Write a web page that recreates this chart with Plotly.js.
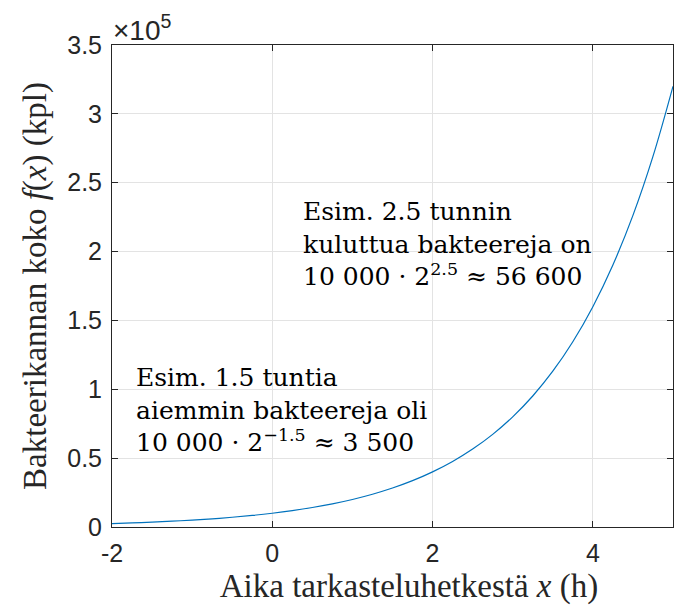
<!DOCTYPE html>
<html>
<head>
<meta charset="utf-8">
<script src="https://cdn.plot.ly/plotly-3.0.1.min.js"></script>
<style>html,body{margin:0;padding:0;background:#fff}#chart{width:674px;height:605px}</style>
</head>
<body>
<div id="chart"></div>
<script>
// (bacteria count vs time)
const timeH = [-2, -1.75, -1.5, -1.25, -1, -0.75, -0.5, -0.25, 0, 0.25, 0.5, 0.75, 1, 1.25, 1.5, 1.75, 2, 2.25, 2.5, 2.75, 3, 3.25, 3.5, 3.75, 4, 4.25, 4.5, 4.75, 5];
const bacteria = [2500, 2973, 3536, 4204, 5000, 5946, 7071, 8409, 10000, 11892, 14142, 16818, 20000, 23784, 28284, 33636, 40000, 47568, 56569, 67272, 80000, 95137, 113137, 134543, 160000, 190273, 226274, 269087, 320000];
const yTickVals = [0, 50000, 100000, 150000, 200000, 250000, 300000, 350000];
const yTickText = ['0', '0.5', '1', '1.5', '2', '2.5', '3', '3.5'];
const xTickVals = [-2, 0, 2, 4];
const xTickText = ['-2', '0', '2', '4'];

const axisCol = '#262626';
const gridCol = '#e3e3e3';
const tickFont = {family: 'Liberation Sans, Arial, sans-serif', size: 25, color: axisCol};
const serif = 'Liberation Serif, Times New Roman, serif';
const annFont = 'DejaVu Serif, serif';

const trace = {
  x: timeH, y: bacteria, type: 'scatter', mode: 'lines',
  line: {color: '#0072BD', width: 1.2, shape: 'spline'},
  hoverinfo: 'skip'
};

const layout = {
  width: 674, height: 605,
  margin: {l: 112, r: 1, t: 45, b: 78},
  paper_bgcolor: '#fff', plot_bgcolor: '#fff',
  showlegend: false,
  xaxis: {
    range: [-2, 5], tickvals: xTickVals, ticktext: xTickText,
    ticks: 'inside', ticklen: 6, tickcolor: axisCol, tickwidth: 1,
    showline: true, linecolor: axisCol, linewidth: 1, mirror: 'ticks',
    showgrid: true, gridcolor: gridCol, gridwidth: 1, zeroline: false,
    tickfont: tickFont, ticklabelstandoff: 4,
    title: {text: '&nbsp;&nbsp;&nbsp;&nbsp;Aika tarkasteluhetkestä <i>x</i> (h)', font: {family: serif, size: 33, color: axisCol}, standoff: 7}
  },
  yaxis: {
    range: [0, 350000], tickvals: yTickVals, ticktext: yTickText,
    ticks: 'inside', ticklen: 6, tickcolor: axisCol, tickwidth: 1,
    showline: true, linecolor: axisCol, linewidth: 1, mirror: 'ticks',
    showgrid: true, gridcolor: gridCol, gridwidth: 1, zeroline: false,
    tickfont: tickFont, ticklabelstandoff: 4,
    title: {text: 'Bakteerikannan koko <i>f</i>(<i>x</i>) (kpl)', font: {family: serif, size: 33, color: axisCol}, standoff: 10}
  },
  annotations: [
    {xref: 'paper', yref: 'paper', x: 0, y: 1, xanchor: 'left', yanchor: 'bottom', showarrow: false, borderpad: 0, yshift: -2,
     text: '×10<sup>5</sup>', font: {family: 'Liberation Sans, Arial, sans-serif', size: 28, color: axisCol}},
    {x: 0.37, y: 240000, xanchor: 'left', yanchor: 'top', align: 'left', showarrow: false, borderpad: 0,
     text: 'Esim. 2.5 tunnin<br>kuluttua bakteereja on<br>10 000 · 2<sup>2.5</sup> ≈ 56 600',
     font: {family: annFont, size: 25, color: '#000'}},
    {x: -1.71, y: 120000, xanchor: 'left', yanchor: 'top', align: 'left', showarrow: false, borderpad: 0,
     text: 'Esim. 1.5 tuntia<br>aiemmin bakteereja oli<br>10 000 · 2<sup>−1.5</sup> ≈ 3 500',
     font: {family: annFont, size: 25, color: '#000'}}
  ]
};

Plotly.newPlot('chart', [trace], layout, {displayModeBar: false, staticPlot: true});
</script>
</body>
</html>
